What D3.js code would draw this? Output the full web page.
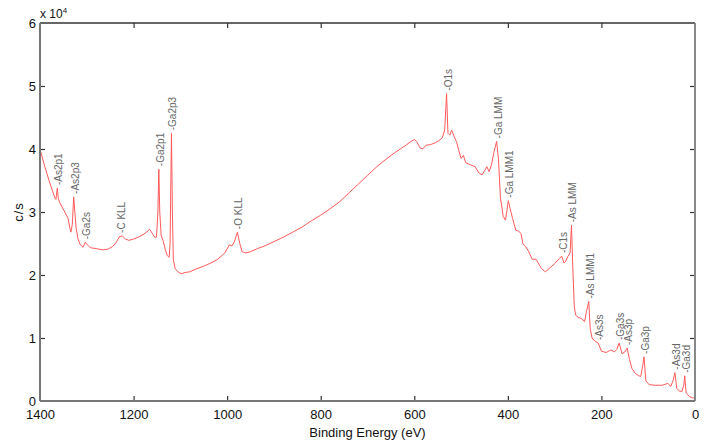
<!DOCTYPE html>
<html lang="en">
<head>
<meta charset="UTF-8">
<title>XPS survey</title>
<style>
    body { margin: 0; background: #fff; }
    svg { display: block; font-family: "Liberation Sans", Arial, sans-serif; }
    .peak { font-size: 10px; fill: #666; }
    .tick-label { font-size: 13px; fill: #111; }
</style>
</head>
<body>
<div id="chart"></div>
<script src="https://d3js.org/d3.v7.min.js"></script>
<script>
// spectrum: binding energy (eV) and counts (c/s)
const energy = [1400, 1389, 1379, 1368, 1366, 1363, 1361, 1358, 1347, 1340, 1336, 1334, 1331, 1328, 1325, 1323, 1319, 1314, 1308, 1303,
    1300, 1295, 1290, 1280, 1267, 1255, 1245, 1237, 1230, 1224, 1217, 1210, 1200, 1190, 1180, 1172, 1166, 1160, 1155, 1151,
    1148, 1146, 1144, 1141, 1137, 1132, 1128, 1124, 1122, 1119, 1117, 1115, 1111, 1105, 1098, 1090, 1080, 1065, 1050, 1035,
    1020, 1005, 995, 990, 985, 978, 973, 968, 960, 950, 935, 920, 900, 880, 860, 840, 820, 800, 780, 760,
    740, 720, 700, 680, 660, 640, 620, 605, 600, 595, 588, 582, 575, 565, 555, 548, 540, 535, 531, 528,
    524, 520, 515, 510, 505, 500, 495, 490, 480, 470, 462, 455, 450, 445, 440, 435, 430, 424, 420, 416,
    410, 405, 399, 395, 390, 383, 378, 372, 368, 362, 356, 348, 340, 335, 328, 320, 312, 300, 290, 285,
    280, 276, 272, 267, 264, 261, 258, 255, 250, 243, 236, 232, 227, 224, 220, 214, 207, 200, 190, 180,
    172, 167, 162, 156, 150, 145, 140, 135, 128, 120, 116, 112, 109, 105, 98, 85, 70, 58, 52, 47,
    43, 39, 34, 28, 24, 22, 19, 12, 5, 0];
const counts = [40000, 37000, 34600, 32200, 32000, 33800, 32200, 31500, 30000, 29000, 27400, 26800, 28000, 32400, 29500, 27600, 25800, 24800, 24400, 25200,
    24900, 24500, 24300, 24200, 24000, 24100, 24500, 25200, 26100, 26200, 25700, 25500, 25700, 26000, 26400, 26800, 27300, 26600, 26000, 26000,
    30000, 36800, 30000, 26200, 25500, 24000, 23100, 22800, 25000, 42500, 30000, 22400, 21000, 20500, 20200, 20400, 20500, 21000, 21400, 21900,
    22500, 23500, 24800, 24600, 25200, 26800, 25000, 23700, 23500, 23700, 24200, 24600, 25300, 26000, 26800, 27600, 28600, 29500, 30500, 31600,
    33000, 34400, 35800, 37200, 38400, 39500, 40500, 41300, 41500, 41200, 40200, 40000, 40600, 40700, 41000, 41300, 41800, 43000, 48800, 42500,
    42200, 43000, 42000, 41200, 39800, 38500, 39000, 37800, 37500, 37200, 36200, 35900, 36500, 37200, 36400, 37500, 39400, 41200, 38300, 32400,
    29300, 28700, 31800, 30500, 29000, 27100, 27000, 26600, 25000, 24500, 23800, 22500, 22500, 21900, 21000, 20500, 21000, 21800, 22600, 23000,
    21900, 22200, 22900, 23500, 27900, 20800, 15000, 13600, 13300, 13100, 12600, 14200, 15800, 11500, 10000, 9500, 9200, 7900, 7700, 8100,
    7800, 8200, 9200, 7500, 7800, 8400, 6600, 5200, 4400, 4000, 3900, 5500, 7000, 3200, 2600, 2500, 2500, 2800, 2300, 3200,
    4500, 2000, 1600, 1500, 2500, 4000, 1300, 700, 500, 500];

// peak annotations
const peakNames = ["As2p1", "As2p3", "Ga2s", "C KLL", "Ga2p1", "Ga2p3", "O KLL", "O1s", "Ga LMM", "Ga LMM1",
    "C1s", "As LMM", "As LMM1", "As3s", "Ga3s", "As3p", "Ga3p", "As3d", "Ga3d"];
const peakEnergy = [1363, 1328, 1303, 1230, 1146, 1119, 978, 531, 424, 399, 285, 264, 227, 207, 162, 145, 109, 43, 22];
const peakCounts = [33800, 32400, 25200, 26200, 36800, 42500, 26800, 48800, 41200, 31800, 23000, 27900, 15800, 9200, 9200, 8400, 7000, 4500, 4000];

const xTicks = [1400, 1200, 1000, 800, 600, 400, 200, 0];
const yTicks = [0, 10000, 20000, 30000, 40000, 50000, 60000];

const width = 710, height = 442;
const margin = { top: 23, right: 15, bottom: 41, left: 40 };
const innerW = width - margin.left - margin.right;
const innerH = height - margin.top - margin.bottom;

const svg = d3.select("#chart").append("svg")
    .attr("width", width)
    .attr("height", height);

const g = svg.append("g").attr("transform", `translate(${margin.left},${margin.top})`);

const x = d3.scaleLinear().domain([1400, 0]).range([0, innerW]);
const y = d3.scaleLinear().domain([0, 60000]).range([innerH, 0]);

const points = energy.map((e, i) => [e, counts[i]]);

g.append("path")
    .datum(points)
    .attr("fill", "none")
    .attr("stroke", "#ff5a5a")
    .attr("stroke-width", 1)
    .attr("d", d3.line().x(d => x(d[0])).y(d => y(d[1])));

// peak labels, rotated, reading upward
peakNames.forEach((name, i) => {
    const px = x(peakEnergy[i]) + 1.5;
    const py = y(peakCounts[i]) - 3;
    g.append("text")
        .attr("class", "peak")
        .attr("transform", `translate(${px},${py}) rotate(-90)`)
        .attr("dy", "0.35em")
        .text("-" + name);
});

// axes
const fmtY = d => d / 10000;
const axBottom = g.append("g").attr("transform", `translate(0,${innerH})`)
    .call(d3.axisBottom(x).tickValues(xTicks).tickSize(-5).tickPadding(9).tickFormat(d3.format("d")));
const axTop = g.append("g")
    .call(d3.axisTop(x).tickValues(xTicks).tickSize(-5).tickFormat(""));
const axLeft = g.append("g")
    .call(d3.axisLeft(y).tickValues(yTicks).tickSize(-5).tickPadding(4).tickFormat(fmtY));
const axRight = g.append("g").attr("transform", `translate(${innerW},0)`)
    .call(d3.axisRight(y).tickValues(yTicks).tickSize(-5).tickFormat(""));

[axBottom, axTop, axLeft, axRight].forEach(a => {
    a.attr("font-size", null).attr("font-family", null);
    a.select(".domain").remove();
    a.selectAll(".tick line").attr("stroke", "#333").attr("stroke-width", 1.2);
    a.selectAll(".tick text").attr("class", "tick-label");
});
axTop.selectAll(".tick").filter(d => d === 1400 || d === 0).remove();
axBottom.selectAll(".tick line").filter(d => d === 1400 || d === 0).remove();
axLeft.selectAll(".tick line").filter(d => d === 0 || d === 60000).remove();
axRight.selectAll(".tick").filter(d => d === 0 || d === 60000).remove();

// frame
g.append("line").attr("x1", 0).attr("x2", innerW).attr("y1", 0).attr("y2", 0)
    .attr("stroke", "#333").attr("stroke-width", 1.5);
g.append("line").attr("x1", 0).attr("x2", 0).attr("y1", 0).attr("y2", innerH)
    .attr("stroke", "#777").attr("stroke-width", 2);
g.append("line").attr("x1", innerW).attr("x2", innerW).attr("y1", 0).attr("y2", innerH)
    .attr("stroke", "#888").attr("stroke-width", 2);
g.append("line").attr("x1", 0).attr("x2", innerW).attr("y1", innerH).attr("y2", innerH)
    .attr("stroke", "#777").attr("stroke-width", 2);

// titles
svg.append("text")
    .attr("x", margin.left + innerW / 2)
    .attr("y", 437)
    .attr("text-anchor", "middle")
    .attr("font-size", 13)
    .attr("fill", "#111")
    .text("Binding Energy (eV)");

svg.append("text")
    .attr("transform", `translate(23,212) rotate(-90)`)
    .attr("text-anchor", "middle")
    .attr("font-size", 13)
    .attr("fill", "#111")
    .attr("letter-spacing", 1)
    .text("c/s");

const mult = svg.append("text")
    .attr("x", 40)
    .attr("y", 18)
    .attr("font-size", 12)
    .attr("fill", "#111");
mult.append("tspan").text("x 10");
mult.append("tspan").attr("font-size", 8).attr("dy", -5).text("4");
</script>
</body>
</html>
